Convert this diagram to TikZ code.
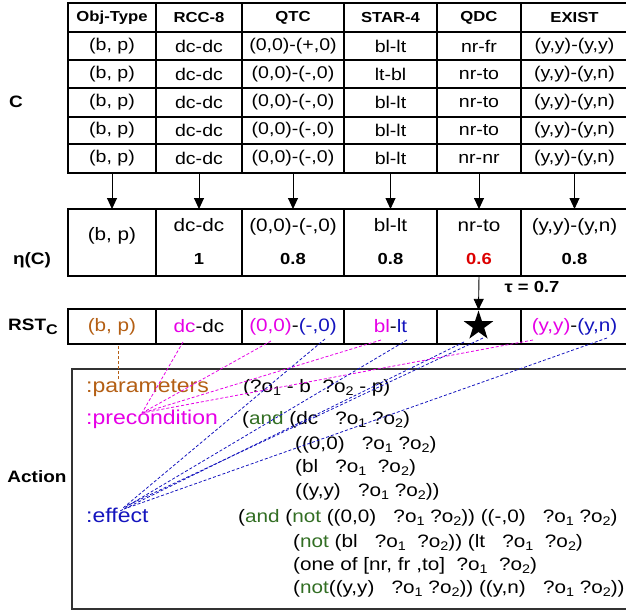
\documentclass[tikz,border=0pt]{standalone}
\usepackage{fontspec}
\setmainfont{Liberation Sans}[FakeStretch=1.15]
\usetikzlibrary{arrows.meta,shapes.geometric}
\newcommand{\fs}[1]{\fontsize{#1}{#1}\selectfont}
\newcommand{\sbs}[1]{\raisebox{-0.35ex}{\fs{12.5}#1}}
\definecolor{cbrown}{RGB}{180,95,20}
\definecolor{cmag}{RGB}{230,0,230}
\definecolor{cblue}{RGB}{20,20,190}
\definecolor{cgreen}{RGB}{50,110,35}
\definecolor{cred}{RGB}{220,0,0}
\definecolor{cframe}{RGB}{50,50,50}
\newcommand{\tabrow}[9]{%
  \node[cellbox,minimum width=88pt,minimum height=#3] (#1-1) at (112,#2) {#4};
  \node[cellbox,minimum width=86pt,minimum height=#3] (#1-2) at (199,#2) {#5};
  \node[cellbox,minimum width=102pt,minimum height=#3] (#1-3) at (293,#2) {#6};
  \node[cellbox,minimum width=93pt,minimum height=#3] (#1-4) at (390.5,#2) {#7};
  \node[cellbox,minimum width=84pt,minimum height=#3] (#1-5) at (479,#2) {#8};
  \node[cellbox,minimum width=107pt,minimum height=#3] (#1-6) at (574.5,#2) {#9};
}
\tikzset{
  cellbox/.style={draw, line width=1.3pt, inner sep=0pt, outer sep=0pt, font=\fs{17}},
  rowlabel/.style={font=\bfseries\fs{16.5}, inner sep=0pt},
  arr/.style={line width=0.9pt, -{Triangle[length=11pt,width=10pt]}},
  txt/.style={inner sep=0pt, text height=0.72em, text depth=0.22em},
  code/.style={txt, anchor=west, font=\fs{18}},
  key/.style={txt, anchor=west, font=\fs{20}},
  dl/.style={dashed, dash pattern=on 3pt off 2pt, line width=0.8pt},
}
\begin{document}
\begin{tikzpicture}[x=1pt,y=-1pt]
\useasboundingbox (0,0) rectangle (626,614);

% ---- table C ----
\begin{scope}[cellbox/.append style={font=\bfseries\fs{14.5}}]
\tabrow{h}{17.5}{29pt}{Obj-Type}{RCC-8}{QTC}{STAR-4}{QDC}{EXIST}
\end{scope}
\tabrow{r1}{46}{28pt}{(b, p)}{dc-dc}{(0,0)-(+,0)}{bl-lt}{nr-fr}{(y,y)-(y,y)}
\tabrow{r2}{74}{28pt}{(b, p)}{dc-dc}{(0,0)-(-,0)}{lt-bl}{nr-to}{(y,y)-(y,n)}
\tabrow{r3}{102.5}{29pt}{(b, p)}{dc-dc}{(0,0)-(-,0)}{bl-lt}{nr-to}{(y,y)-(y,n)}
\tabrow{r4}{130.5}{27pt}{(b, p)}{dc-dc}{(0,0)-(-,0)}{bl-lt}{nr-to}{(y,y)-(y,n)}
\tabrow{r5}{158.5}{29pt}{(b, p)}{dc-dc}{(0,0)-(-,0)}{bl-lt}{nr-nr}{(y,y)-(y,n)}

% ---- eta(C) row ----
\tabrow{e}{242.5}{67pt}{}{}{}{}{}{}
\begin{scope}[every node/.style={txt, font=\fs{18}}]
\node (et1) at (112,238) {(b, p)};
\node (et2) at (199,229) {dc-dc};
\node (et3) at (293,229) {(0,0)-(-,0)};
\node (et4) at (390.5,229) {bl-lt};
\node (et5) at (479,229) {nr-to};
\node (et6) at (574.5,229) {(y,y)-(y,n)};
\end{scope}
\begin{scope}[every node/.style={txt, font=\bfseries\fs{16}}]
\node (ev2) at (199,262) {1};
\node (ev3) at (293,262) {0.8};
\node (ev4) at (390.5,262) {0.8};
\node[text=cred] (ev5) at (479,262) {0.6};
\node (ev6) at (574.5,262) {0.8};
\end{scope}

% ---- RST row ----
\begin{scope}[cellbox/.append style={font=\fs{18}}]
\tabrow{s}{326.5}{35pt}{\textcolor{cbrown}{(b, p)}}{\textcolor{cmag}{dc}-dc}{\textcolor{cmag}{(0,0)}-\textcolor{cblue}{(-,0)}}{\textcolor{cmag}{bl}-\textcolor{cblue}{lt}}{}{\textcolor{cmag}{(y,y)}-\textcolor{cblue}{(y,n)}}
\end{scope}
\node[star, star points=5, star point ratio=2.6, fill=black, minimum size=31pt, inner sep=0pt] (star) at (478.5,326) {};

% ---- arrows ----
\foreach \i in {1,...,6} { \draw[arr] (r5-\i.south) -- (e-\i.north); }
\draw[arr] (e-5.south) -- (star.north);
\node[txt, font=\bfseries\fs{16}] (tau) at (532,290) {τ = 0.7};

% ---- row labels ----
\node[rowlabel] (lC) at (16,102) {C};
\node[rowlabel] (lEta) at (32,260) {η(C)};
\node[rowlabel] (lRST) at (33,327) {RST\raisebox{-0.45ex}{\fs{14}C}};
\node[rowlabel] (lAct) at (37,477) {Action};

% ---- action box ----
\node[draw=cframe, line width=1.6pt, minimum width=562pt, minimum height=240pt, anchor=north west, inner sep=0pt] (act) at (71,368) {};

\node[key, text=cbrown] (kpar) at (86,390) {:parameters};
\node[key, text=cmag] (kpre) at (86,422) {:precondition};
\node[key, text=cblue] (keff) at (86,520) {:effect};

\node[code] (cpar) at (243,390) {(?o\sbs{1} - b\ \ ?o\sbs{2} - p)};
\node[code] (cpre1) at (242,422) {(\textcolor{cgreen}{and} (dc\ \ \ ?o\sbs{1} ?o\sbs{2})};
\node[code] (cpre2) at (295,447) {((0,0)\ \ \ ?o\sbs{1} ?o\sbs{2})};
\node[code] (cpre3) at (295,470) {(bl\ \ \ ?o\sbs{1}\ \ ?o\sbs{2})};
\node[code] (cpre4) at (295,494) {((y,y)\ \ \ ?o\sbs{1} ?o\sbs{2}))};
\node[code] (ceff1) at (238,520) {(\textcolor{cgreen}{and} (\textcolor{cgreen}{not} ((0,0)\ \ \ ?o\sbs{1} ?o\sbs{2})) ((-,0)\ \ \ ?o\sbs{1} ?o\sbs{2})};
\node[code] (ceff2) at (293,545) {(\textcolor{cgreen}{not} (bl\ \ \ ?o\sbs{1}\ \ ?o\sbs{2})) (lt\ \ \ ?o\sbs{1}\ \ ?o\sbs{2})};
\node[code] (ceff3) at (293,568) {(one of [nr, fr ,to]\ \ ?o\sbs{1}\ \ ?o\sbs{2})};
\node[code] (ceff4) at (293,591) {(\textcolor{cgreen}{not}((y,y)\ \ \ ?o\sbs{1} ?o\sbs{2})) ((y,n)\ \ \ ?o\sbs{1} ?o\sbs{2}))};

% ---- dashed links ----
\coordinate (aBP) at (118,346);
\coordinate (aPar) at (118,381);
\coordinate (aDC) at (183,342);
\coordinate (aOO) at (271,341);
\coordinate (aBL) at (381,340);
\coordinate (aYY) at (533,340);
\coordinate (aPre) at (142,413);
\coordinate (aMO) at (325,339);
\coordinate (aLT) at (407,340);
\coordinate (aSt1) at (464,342);
\coordinate (aSt2) at (483,338);
\coordinate (aYN) at (607,338);
\coordinate (aEff) at (123,508);

\draw[dl, cbrown] (aBP) -- (aPar);
\foreach \p in {aDC,aOO,aBL,aYY} { \draw[dl, cmag] (\p) -- (aPre); }
\draw[dl, cblue] (aMO) -- (aEff);
\draw[dl, cblue] (aLT) -- ([shift={(1,0)}]aEff);
\draw[dl, cblue] (aSt1) -- ([shift={(-3,3)}]aEff);
\draw[dl, cblue] (aSt2) -- ([shift={(3,-2)}]aEff);
\draw[dl, cblue] (aYN) -- ([shift={(1,1)}]aEff);
\end{tikzpicture}
\end{document}
